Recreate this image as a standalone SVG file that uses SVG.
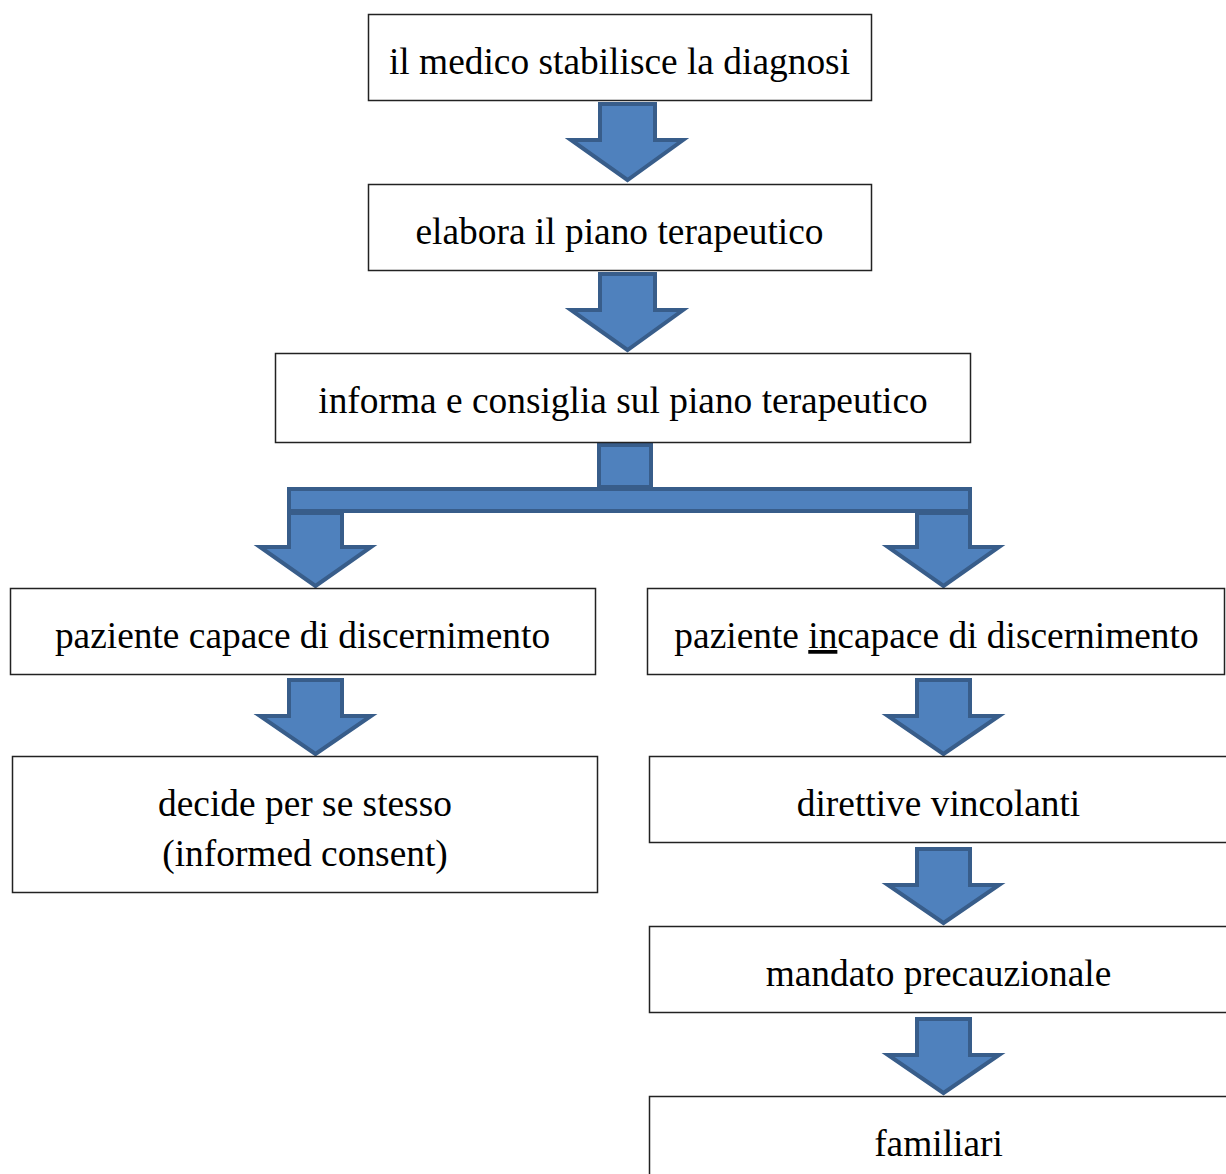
<svg xmlns="http://www.w3.org/2000/svg" width="1226" height="1174" viewBox="0 0 1226 1174">
<style>
.box{fill:#fff;stroke:#222;stroke-width:1.5}
.t{font-family:"Liberation Serif","Times New Roman",serif;font-size:37.4px;fill:#000;text-anchor:middle}
.ar{fill:#4F81BD;stroke:#385D8A;stroke-width:4;stroke-linejoin:miter}
</style>
<rect width="1226" height="1174" fill="#fff"/>
<g id="connectors">
<path class="ar" d="M600,104 H655 V140 H683 L627.5,180 L571,140 H600 Z"/>
<path class="ar" d="M600,274 H655 V310 H683 L627.5,350 L571,310 H600 Z"/>
<rect class="ar" x="599" y="445" width="52" height="42"/>
<rect class="ar" x="289" y="489" width="681" height="22"/>
<path class="ar" d="M289,513 H342 V547 H371 L315.5,586 L260,547 H289 Z"/>
<path class="ar" d="M917,513 H970 V547 H999 L943.5,586 L888,547 H917 Z"/>
<path class="ar" d="M289,680 H342 V716 H371 L315.5,754 L260,716 H289 Z"/>
<path class="ar" d="M917,680 H970 V716 H999 L943.5,754 L888,716 H917 Z"/>
<path class="ar" d="M917,849 H970 V885 H999 L943.5,923 L888,885 H917 Z"/>
<path class="ar" d="M917,1019 H970 V1055 H999 L943.5,1093 L888,1055 H917 Z"/>
</g>
<g id="n1"><rect class="box" x="368.5" y="14.5" width="503" height="86"/><text class="t" x="619.5" y="74">il medico stabilisce la diagnosi</text></g>
<g id="n2"><rect class="box" x="368.5" y="184.5" width="503" height="86"/><text class="t" x="619.5" y="244">elabora il piano terapeutico</text></g>
<g id="n3"><rect class="box" x="275.5" y="353.5" width="695" height="89"/><text class="t" x="623" y="413">informa e consiglia sul piano terapeutico</text></g>
<g id="n4"><rect class="box" x="10.5" y="588.5" width="585" height="86"/><text class="t" x="302.5" y="648">paziente capace di discernimento</text></g>
<g id="n5"><rect class="box" x="647.5" y="588.5" width="577" height="86"/><text class="t" x="936.5" y="648">paziente <tspan text-decoration="underline">in</tspan>capace di discernimento</text></g>
<g id="n6"><rect class="box" x="12.5" y="756.5" width="585" height="136"/><text class="t" x="305" y="816">decide per se stesso</text><text class="t" x="305" y="866">(informed consent)</text></g>
<g id="n7"><rect class="box" x="649.5" y="756.5" width="600" height="86"/><text class="t" x="938.5" y="816">direttive vincolanti</text></g>
<g id="n8"><rect class="box" x="649.5" y="926.5" width="600" height="86"/><text class="t" x="938.5" y="986">mandato precauzionale</text></g>
<g id="n9"><rect class="box" x="649.5" y="1096.5" width="600" height="100"/><text class="t" x="938.5" y="1156">familiari</text></g>
</svg>
